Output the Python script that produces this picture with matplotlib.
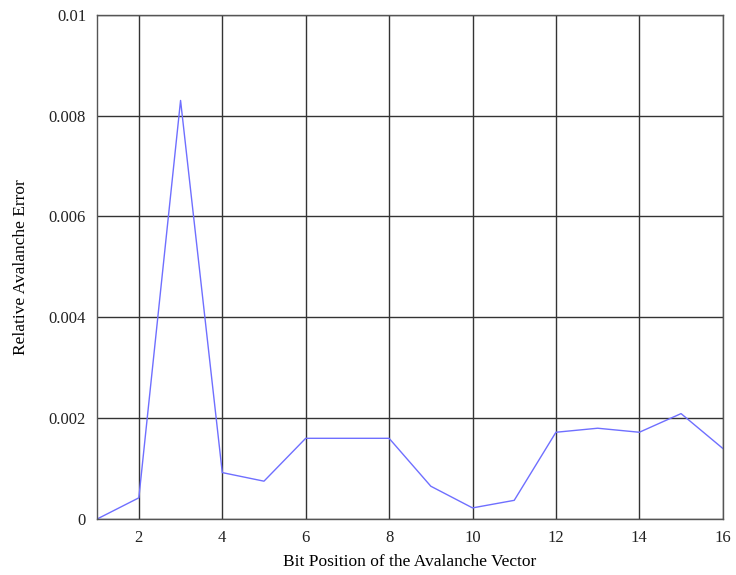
import matplotlib
matplotlib.use("Agg")
import matplotlib.pyplot as plt
from matplotlib.ticker import FixedLocator, FixedFormatter

bit_pos = list(range(1, 17))
aval_err = [0.0, 0.00042, 0.0083, 0.00092, 0.00075, 0.0016, 0.0016, 0.0016,
            0.00065, 0.00022, 0.00037, 0.00172, 0.0018, 0.00172, 0.00209, 0.0014]
x_ticks = [2, 4, 6, 8, 10, 12, 14, 16]
y_ticks = [0, 0.002, 0.004, 0.006, 0.008, 0.01]
y_labels = ["0", "0.002", "0.004", "0.006", "0.008", "0.01"]

plt.rcParams["font.family"] = ["Liberation Serif", "DejaVu Serif"]

fig = plt.figure(figsize=(7.36, 5.75), dpi=100)
ax = fig.add_axes([0.132, 0.0974, 0.850, 0.877])

ax.plot(bit_pos, aval_err, color="#6f6fff", lw=1.0)

ax.set_xlim(1, 16)
ax.set_ylim(0, 0.01)
ax.xaxis.set_major_locator(FixedLocator(x_ticks))
ax.yaxis.set_major_locator(FixedLocator(y_ticks))
ax.yaxis.set_major_formatter(FixedFormatter(y_labels))
ax.grid(True, color="#333333", lw=1.0)
ax.set_axisbelow(True)
ax.tick_params(length=0, labelsize=12, colors="#222222", pad=8)
for s in ax.spines.values():
    s.set_color("#555555")
    s.set_linewidth(1.0)

ax.set_xlabel("Bit Position of the Avalanche Vector", fontsize=12.5, labelpad=6)
ax.set_ylabel("Relative Avalanche Error", fontsize=12.5, labelpad=14)

fig.savefig("out.png", dpi=100)
